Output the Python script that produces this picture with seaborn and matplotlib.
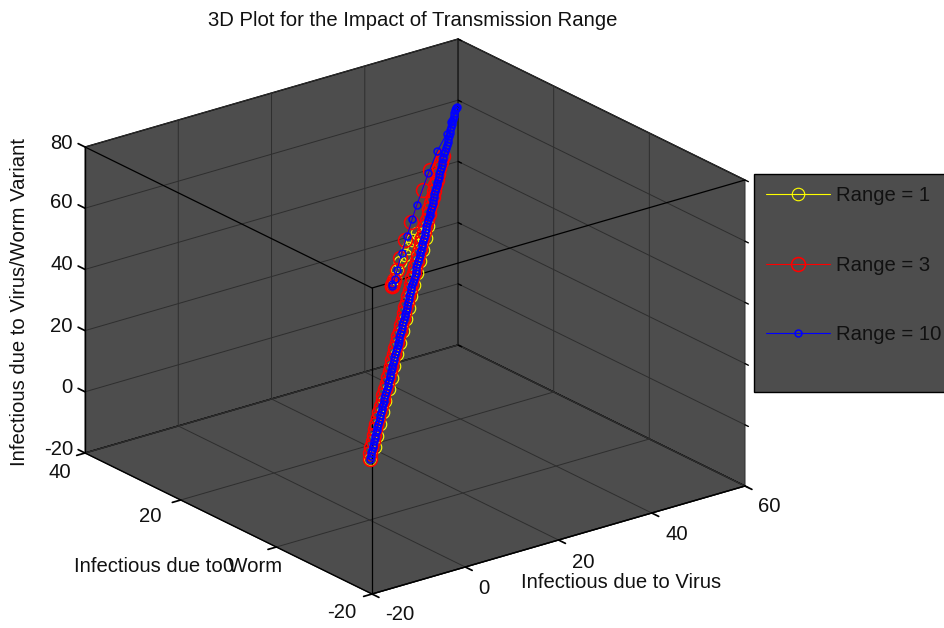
import numpy as np
import seaborn as sns
import matplotlib
matplotlib.use("Agg")
import matplotlib.pyplot as plt
from matplotlib.lines import Line2D
from matplotlib.text import Text

# ---- data -------------------------------------------------------------
x_ticks = [-20, 0, 20, 40, 60]
y_ticks = [-20, 0, 20, 40]
z_ticks = [-20, 0, 20, 40, 60, 80]

r1_virus = [0, 1.7, 3.1, 4.6, 6.1, 7.5, 9.0, 10.5, 11.9, 13.4, 14.9, 16.3, 17.8, 19.3, 20.7, 22.2, 23.7, 25.1,
            26.6, 28.1, 29.5, 23.8, 22.2, 20.8, 19.5, 18.1, 16.7, 15.4, 14.0]
r1_worm = [0, 0.6, 1.5, 2.3, 3.1, 4.0, 4.8, 5.6, 6.5, 7.3, 8.1, 9.0, 9.8, 10.6, 11.5, 12.3, 13.1, 14.0,
           14.8, 15.6, 16.5, 13.3, 12.8, 12.2, 11.6, 11.2, 10.5, 9.7, 9.0]
r1_variant = [0, 2.5, 5.0, 7.5, 10.1, 12.6, 15.1, 17.6, 20.1, 22.6, 25.1, 27.6, 30.2, 32.7, 35.2, 37.7, 40.2, 42.7,
              45.2, 47.8, 50.3, 53.2, 51.8, 50.3, 49.0, 47.8, 46.3, 44.8, 43.4]

r3_virus = [0, .6, 1.3, 2.1, 2.8, 3.5, 4.2, 5.0, 5.7, 6.5, 7.2, 7.9, 8.6, 9.4, 10.1, 10.9, 11.6, 12.3, 13.1, 13.8, 14.5,
            15.3, 16.0, 16.7, 17.5, 18.2, 18.9, 19.7, 20.4, 21.1, 21.9, 22.6, 23.3, 24.1, 24.8, 25.5, 26.3, 27.0, 27.7,
            28.5, 29.2, 29.9, 30.7, 31.4, 32.1, 32.9, 33.6, 34.3, 35.1, 35.8, 36.5, 37.3, 38.0,
            33.4, 30.0, 24.5, 21.5, 18.6, 16.7, 15.0, 14.4, 14.2, 14.1, 14.0]
r3_worm = [0, .6, 1.0, 1.4, 1.8, 2.3, 2.7, 3.1, 3.5, 3.9, 4.3, 4.8, 5.2, 5.6, 6.0, 6.4, 6.8, 7.3, 7.7, 8.1, 8.5,
           8.9, 9.3, 9.8, 10.1, 10.6, 11.0, 11.4, 11.8, 12.2, 12.6, 13.1, 13.5, 13.9, 14.3, 14.7, 15.1, 15.6, 16.0,
           16.4, 16.8, 17.2, 17.6, 18.1, 18.5, 18.9, 19.3, 19.7, 20.1, 20.6, 21.0, 21.4, 21.8,
           19.9, 18.1, 15.2, 13.5, 11.7, 10.5, 9.5, 9.2, 9.1, 9.0, 9.0]
r3_variant = [0, 1.3, 2.5, 3.8, 5.0, 6.3, 7.5, 8.8, 10.1, 11.3, 12.6, 13.8, 15.1, 16.3, 17.6, 18.9, 20.1, 21.4, 22.6, 23.9, 25.1,
              26.4, 27.6, 28.9, 30.2, 31.4, 32.7, 33.9, 35.2, 36.4, 37.7, 39.0, 40.2, 41.5, 42.7, 44.0, 45.2, 46.5, 47.8,
              49.0, 50.3, 51.5, 52.8, 54.0, 55.3, 56.6, 57.8, 59.1, 60.3, 61.6, 62.8, 64.1, 65.3,
              64.5, 60.8, 55.0, 51.8, 48.5, 46.3, 44.5, 43.9, 43.6, 43.5, 43.4]

r10_virus = [0, 0.4, 0.7, 1.1, 1.5, 1.8, 2.2, 2.6, 2.9, 3.3, 3.7, 4.0, 4.4, 4.8, 5.1, 5.5, 5.9, 6.2, 6.6, 7.0, 7.3, 7.7, 8.1, 8.4,
             8.8, 9.2, 9.5, 9.9, 10.3, 10.6, 11.0, 11.4, 11.7, 12.1, 12.5, 12.8, 13.2, 13.6, 13.9, 14.3, 14.7, 15.0, 15.4,
             15.8, 16.1, 16.5, 16.9, 17.2, 17.6, 18.0, 18.3, 18.7, 19.1, 19.4, 19.8, 20.2, 20.5, 20.9, 21.3, 21.6, 22.0,
             22.4, 22.7, 23.1, 23.5, 23.8, 24.2, 24.6, 24.9, 25.3, 25.7, 26.0, 26.4, 26.8, 27.1, 27.5, 27.9, 28.2, 28.6,
             29.0, 29.3, 29.7, 30.1, 30.4, 30.8, 31.2, 31.5, 31.9, 32.3, 32.6, 33.0, 33.4, 33.7, 34.1, 34.5, 34.8, 35.2,
             35.6, 35.9, 36.3, 36.7, 37.0, 37.4, 37.8, 38.1, 38.5, 38.9, 39.2, 39.6, 40.0, 40.3, 40.7, 41.1, 41.4, 41.8,
             42.2, 42.5, 42.9, 43.3, 43.6, 44.0, 44.2, 44.4, 44.2,
             42.0, 39.9, 36.7, 32.7, 27.4, 24.9, 22.2, 19.4, 16.7, 15.2, 14.3, 14.0]
r10_worm = [0, .2, .4, .6, .8, 1.0, 1.3, 1.5, 1.7, 1.9, 2.1, 2.3, 2.5, 2.7, 2.9, 3.1, 3.3, 3.5, 3.8, 4.0, 4.2, 4.4, 4.6, 4.8,
            5.0, 5.2, 5.4, 5.6, 5.8, 6.0, 6.3, 6.5, 6.7, 6.9, 7.1, 7.3, 7.5, 7.7, 7.9, 8.1, 8.3, 8.5, 8.8,
            9.0, 9.2, 9.4, 9.6, 9.8, 10.0, 10.2, 10.4, 10.6, 10.8, 11.0, 11.3, 11.5, 11.7, 11.9, 12.1, 12.3, 12.5,
            12.7, 12.9, 13.1, 13.3, 13.5, 13.8, 14.0, 14.2, 14.4, 14.6, 14.8, 15.0, 15.2, 15.4, 15.6, 15.8, 16.0, 16.3,
            16.5, 16.7, 16.9, 17.1, 17.3, 17.5, 17.7, 17.9, 18.1, 18.3, 18.5, 18.8, 19.0, 19.2, 19.4, 19.6, 19.8, 20.0,
            20.2, 20.4, 20.6, 20.8, 21.0, 21.3, 21.5, 21.7, 21.9, 22.1, 22.3, 22.5, 22.7, 22.9, 23.1, 23.3, 23.5, 23.8,
            24.0, 24.2, 24.4, 24.6, 24.8, 25.0, 25.0, 25.1, 25.0,
            23.9, 22.8, 21.6, 19.6, 16.8, 15.4, 13.8, 12.2, 10.5, 9.6, 9.2, 9.0]
r10_variant = [0, .6, 1.3, 1.9, 2.5, 3.1, 3.8, 4.4, 5.0, 5.7, 6.3, 6.9, 7.5, 8.2, 8.8, 9.4, 10.1, 10.7, 11.3, 11.9, 12.6, 13.2, 13.8, 14.5,
               15.1, 15.7, 16.3, 17.0, 17.6, 18.2, 18.9, 19.5, 20.1, 20.7, 21.4, 22.0, 22.6, 23.3, 23.9, 24.5, 25.1, 25.8, 26.4,
               27.0, 27.6, 28.3, 28.9, 29.5, 30.2, 30.8, 31.4, 32.0, 32.7, 33.3, 33.9, 34.6, 35.2, 35.8, 36.4, 37.1, 37.7,
               38.3, 39.0, 39.6, 40.2, 40.8, 41.5, 42.1, 42.7, 43.4, 44.0, 44.6, 45.2, 45.9, 46.5, 47.1, 47.8, 48.4, 49.0,
               49.6, 50.3, 50.9, 51.5, 52.2, 52.8, 53.4, 54.0, 54.7, 55.3, 55.9, 56.6, 57.2, 57.8, 58.4, 59.1, 59.7, 60.3,
               61.0, 61.6, 62.2, 62.8, 63.5, 64.1, 64.7, 65.3, 66.0, 66.6, 67.2, 67.9, 68.5, 69.1, 69.8, 70.4, 71.0, 71.6,
               72.3, 72.9, 73.5, 74.1, 74.8, 75.4, 75.8, 76.1, 75.8,
               73.2, 71.0, 67.9, 63.8, 58.1, 55.4, 52.5, 49.4, 46.3, 44.7, 43.7, 43.4]

series_labels = ["Range = 1", "Range = 3", "Range = 10"]
title = "3D Plot for the Impact of Transmission Range"
x_label = "Infectious due to Virus"
y_label = "Infectious due to Worm"
z_label = "Infectious due to Virus/Worm Variant"

# ---- layout (pixel positions in the 944x628 picture) --------------------
W, H = 944, 628
x_tick_px = [(400, 615), (484, 588), (583, 562), (677, 534), (769, 507)]
y_tick_px = [(342, 612), (228, 567), (150, 517), (60, 472)]
z_tick_px = [(73, 449), (73, 387), (73, 326), (73, 264), (73, 202), (73, 143)]

PANE = "#4d4d4d"
FS = 14.6

sns.set_theme(style="white", rc={
    "grid.color": "#2e2e2e", "grid.linewidth": 0.7,
    "xtick.color": "black", "ytick.color": "black", "text.color": "#111111",
    "axes.labelcolor": "#111111", "axes.edgecolor": "black",
    "axes.unicode_minus": False,
})
plt.rcParams["font.family"] = ["Liberation Sans", "DejaVu Sans"]

fig = plt.figure(figsize=(W / 100, H / 100), dpi=100, facecolor="white")
ax = fig.add_axes([0, 0, 1, 1], projection="3d")
ax.apply_aspect = lambda position=None: None
ax.computed_zorder = False

# pixel position of a data point: an oblique orthographic view of the box
SX = np.array([4.6625, -4.783, 0.0, 369.6])
SY = np.array([-1.35, -2.35, -3.06, 458.8])
DEPTH = np.array([0.01, 0.01, -0.01, -3.0])


def view2d():
    v = ax.viewLim
    return v.x0, v.x1, v.y0, v.y1


def get_proj():
    x0, x1, y0, y1 = view2d()
    fx, fy = (x1 - x0) / W, (y1 - y0) / H
    rx = SX * fx
    rx[3] += x0
    ry = -SY * fy
    ry[3] += y1
    return np.array([rx, ry, DEPTH, [0, 0, 0, 1.0]])


ax.get_proj = get_proj


def pin(txt, px, py):
    """Keep a label at a fixed pixel position when mplot3d places it."""
    def setter(_xy):
        x0, x1, y0, y1 = view2d()
        Text.set_position(txt, (x0 + px / W * (x1 - x0), y1 - py / H * (y1 - y0)))
    txt.set_position = setter


ax.set_xlim(-20, 60, view_margin=0)
ax.set_ylim(-20, 40, view_margin=0)
ax.set_zlim(-20, 80, view_margin=0)
ax.set_xticks(x_ticks)
ax.set_yticks(y_ticks)
ax.set_zticks(z_ticks)
ax.grid(True)
ax.zaxis._get_tickdir = lambda position: 1

for axis, out in ((ax.xaxis, -0.3), (ax.yaxis, -0.28), (ax.zaxis, 0.3)):
    axis.set_pane_color(PANE)
    axis.pane.set_edgecolor("black")
    axis.pane.set_linewidth(1.0)
    axis.line.set_color("black")
    axis.line.set_linewidth(1.0)
    axis._axinfo["tick"].update({"inward_factor": 0.0, "outward_factor": out})
    axis.set_rotate_label(False)

for axis, locs, pix in ((ax.xaxis, x_ticks, x_tick_px), (ax.yaxis, y_ticks, y_tick_px), (ax.zaxis, z_ticks, z_tick_px)):
    ticks = axis.get_major_ticks(len(locs))
    for tk, (px, py) in zip(ticks, pix):
        pin(tk.label1, px, py)
        tk.label1.set_fontsize(FS)
        tk.label1.set_color("#111111")
        tk.label1.set_va("center")
        tk.label1.set_ha("right" if axis is ax.zaxis else "center")

ax.set_xlabel(x_label, fontsize=FS)
ax.set_ylabel(y_label, fontsize=FS)
ax.set_zlabel(z_label, fontsize=FS, rotation=90)
pin(ax.xaxis.label, 621, 583)
pin(ax.yaxis.label, 178, 567)
pin(ax.zaxis.label, 20, 302)

# mplot3d scales the title height by 0.92
ax.set_title(title, fontsize=FS, x=413 / W, y=(1 - 21 / H) / 0.92, va="center", color="#111111", pad=0)

# front edges of the box and the short mirrored ticks
ax.plot([-20, 60], [-20, -20], [80, 80], color="black", lw=0.9, zorder=1)
ax.plot([-20, -20], [-20, 40], [80, 80], color="black", lw=0.9, zorder=1)
ax.plot([-20, -20], [-20, -20], [-20, 80], color="black", lw=0.9, zorder=1)
for z in z_ticks:
    ax.plot([60, 60], [-20, -20.7], [z, z], color="black", lw=1.0, zorder=1)
    ax.plot([60, 60], [40, 39.3], [z, z], color="black", lw=1.0, zorder=1)

h1, = ax.plot(r1_virus, r1_worm, r1_variant, color="#ffff00", lw=0.8, marker="o", ms=9.0, mfc="none", mew=0.8, zorder=3)
h2, = ax.plot(r3_virus, r3_worm, r3_variant, color="#ff0000", lw=0.8, marker="o", ms=10.0, mfc="none", mew=1.15, zorder=4)
h3, = ax.plot(r10_virus, r10_worm, r10_variant, color="#0000ff", lw=0.8, marker="o", ms=5.0, mfc="none", mew=1.1, zorder=5)

blank = lambda: Line2D([], [], color="none")
handles = [h1, blank(), h2, blank(), h3, blank()]
labels = [series_labels[0], " ", series_labels[1], " ", series_labels[2], " "]
leg = ax.legend(handles, labels, loc="upper left", bbox_to_anchor=(753.5 / W, 1 - 173.5 / H),
                bbox_transform=fig.transFigure, borderaxespad=0, fontsize=FS, frameon=True,
                facecolor=PANE, edgecolor="black", framealpha=1, fancybox=False,
                handlelength=3.15, handletextpad=0.3, labelspacing=0.78, borderpad=0.62)
leg.get_frame().set_linewidth(1.0)
leg.set_zorder(10)

fig.savefig("out.png", dpi=100, facecolor="white")
